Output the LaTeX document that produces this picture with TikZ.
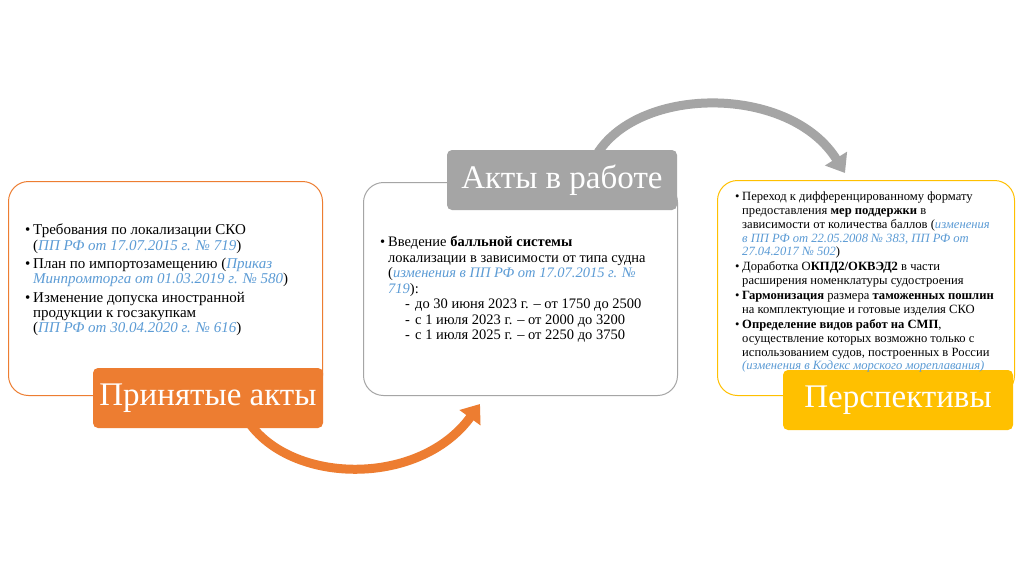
\documentclass[tikz,border=0pt]{standalone}
\usepackage{fontspec}
\setmainfont{Liberation Serif}
\usetikzlibrary{arrows.meta}

\definecolor{accorange}{HTML}{ED7D31}
\definecolor{accgray}{HTML}{A5A5A5}
\definecolor{accgold}{HTML}{FFC000}
\definecolor{reflink}{HTML}{5B9BD5}
\newcommand{\lnk}[1]{\textcolor{reflink}{\textit{#1}}}
\newcommand{\itm}[1][8pt]{\makebox[#1][l]{\textbullet}}
\newcommand{\ind}[1][8pt]{\hspace*{#1}}
\newcommand{\sub}{\hspace*{25pt}\makebox[10pt][l]{-}}

\begin{document}
\begin{tikzpicture}[x=1pt,y=-1pt,
    actbox/.style={draw=#1, line width=1pt, fill=white, rounded corners=20pt,
      inner sep=0pt, anchor=north west},
    acttitle/.style={fill=#1, text=white, rounded corners=5pt, inner sep=0pt,
      minimum width=230pt, minimum height=60pt, font=\fontsize{33}{38}\selectfont},
    acttext/.style={anchor=north west, align=left, inner sep=0pt},
    bigarrow/.style={draw=#1, line width=9pt, -{Triangle[length=17pt,width=25pt]}}]
	\useasboundingbox[fill=white] (0,0) rectangle (1024,576);

	% frames
	\node[actbox=accorange, minimum width=314pt, minimum height=214pt] (done) at (8,181) {};
	\node[actbox=accgray, minimum width=314pt, minimum height=213pt] (work) at (363,182) {};
	\node[actbox=accgold, minimum width=297pt, minimum height=215pt] (plan) at (717,180) {};

	% title centres, the arrows hang on them
	\path (208,398) coordinate (cDone) (562,180) coordinate (cWork) (898,400) coordinate (cPlan);
	\coordinate (o1) at ([xshift=42pt,yshift=-26pt]cDone);
	\coordinate (o2) at ([xshift=117pt,yshift=-8pt]work.south west);
	\coordinate (g1) at ([xshift=35pt,yshift=26pt]cWork);
	\coordinate (g2) at ([xshift=128pt,yshift=7pt]plan.north west);

	\draw[bigarrow=accorange] (o1) .. controls +(45,61) and +(-60,82) .. (o2);
	\draw[bigarrow=accgray] (g1) .. controls +(43,-69) and +(-55,-88) .. (g2);

	\node[acttitle=accorange] (lblDone) at (cDone) {Принятые акты};
	\node[acttitle=accgray] (lblWork) at (cWork) {Акты в работе};
	\node[acttitle=accgold] (lblPlan) at (cPlan) {Перспективы};

	% texts
	\node[acttext, font=\fontsize{15}{15.3}\selectfont] (txtDone) at (25,224) {%
	  \itm Требования по локализации СКО\\
	  \ind(\lnk{ПП РФ от 17.07.2015 г. № 719})\\[3pt]
	  \itm План по импортозамещению (\lnk{Приказ}\\
	  \ind\lnk{Минпромторга от 01.03.2019 г. № 580})\\[3pt]
	  \itm Изменение допуска иностранной\\
	  \ind продукции к госзакупкам\\
	  \ind(\lnk{ПП РФ от 30.04.2020 г. № 616})};

	\node[acttext, font=\fontsize{14.5}{15.5}\selectfont] (txtWork) at (380,236) {%
	  \itm Введение \textbf{балльной системы}\\
	  \ind локализации в зависимости от типа судна\\
	  \ind(\lnk{изменения в ПП РФ от 17.07.2015 г. №}\\
	  \ind\lnk{719}):\\
	  \sub до 30 июня 2023 г. – от 1750 до 2500\\
	  \sub с 1 июля 2023 г. – от 2000 до 3200\\
	  \sub с 1 июля 2025 г. – от 2250 до 3750};

	\node[acttext, font=\fontsize{12.6}{13.7}\selectfont] (txtPlan) at (735,192) {%
	  \itm[7pt]Переход к дифференцированному формату\\
	  \ind[7pt]предоставления \textbf{мер поддержки} в\\
	  \ind[7pt]зависимости от количества баллов (\lnk{изменения}\\
	  \ind[7pt]\lnk{в ПП РФ от 22.05.2008 № 383, ПП РФ от}\\
	  \ind[7pt]\lnk{27.04.2017 № 502})\\[1.5pt]
	  \itm[7pt]Доработка О\textbf{КПД2/ОКВЭД2} в части\\
	  \ind[7pt]расширения номенклатуры судостроения\\[1.5pt]
	  \itm[7pt]\textbf{Гармонизация} размера \textbf{таможенных пошлин}\\
	  \ind[7pt]на комплектующие и готовые изделия СКО\\[1.5pt]
	  \itm[7pt]\textbf{Определение видов работ на СМП},\\
	  \ind[7pt]осуществление которых возможно только с\\
	  \ind[7pt]использованием судов, построенных в России\\
	  \ind[7pt]\lnk{(изменения в Кодекс морского мореплавания)}};
\end{tikzpicture}
\end{document}
